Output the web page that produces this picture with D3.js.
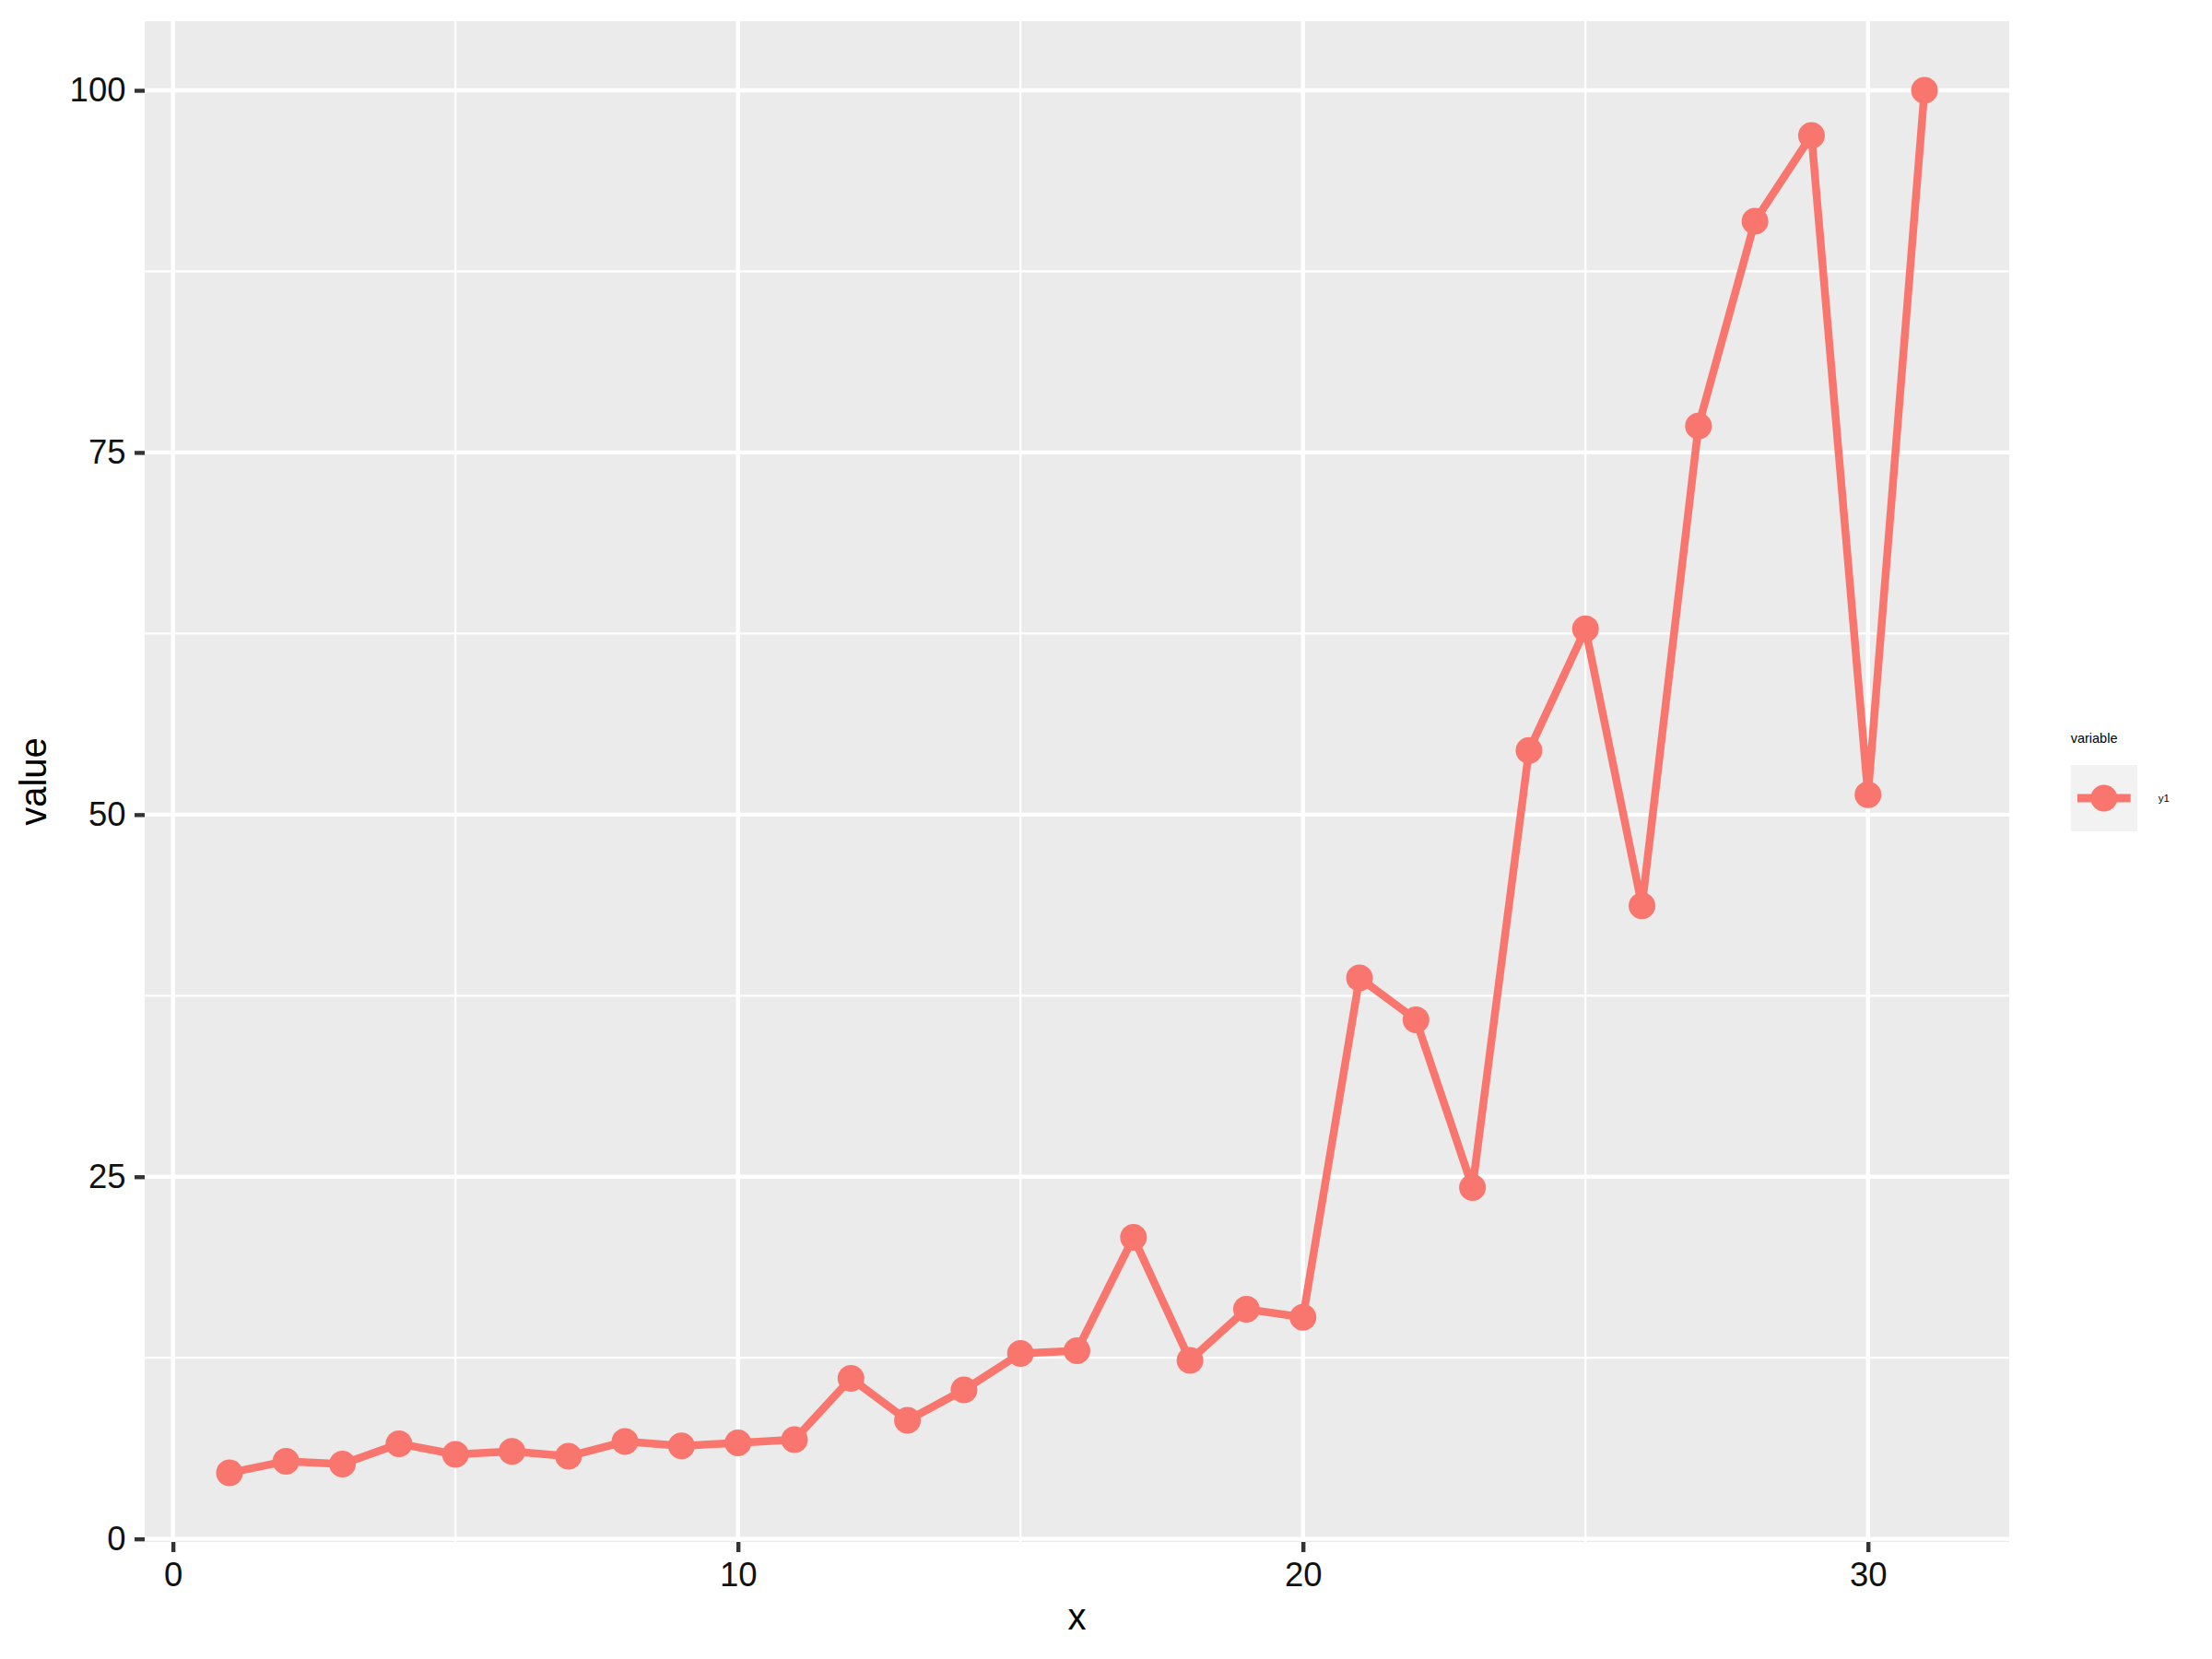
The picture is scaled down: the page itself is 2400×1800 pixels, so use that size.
<!DOCTYPE html>
<html>
<head>
<meta charset="utf-8">
<script src="https://cdn.jsdelivr.net/npm/d3@7"></script>
<style>
  html, body { margin: 0; padding: 0; background: #ffffff; }
  svg { display: block; font-family: "Liberation Sans", Arial, sans-serif; }
</style>
</head>
<body>
<svg id="chart" width="2400" height="1800"></svg>
<script>
// ---- data ----
const xValues = [1, 2, 3, 4, 5, 6, 7, 8, 9, 10, 11, 12, 13, 14, 15, 16, 17, 18, 19, 20, 21, 22, 23, 24, 25, 26, 27, 28, 29, 30, 31];
const y1Values = [4.56, 5.36, 5.17, 6.57, 5.83, 6.04, 5.70, 6.72, 6.42, 6.63, 6.85, 11.08, 8.18, 10.28, 12.80, 12.99, 20.81, 12.33, 15.86, 15.30, 38.73, 35.84, 24.26, 54.43, 62.82, 43.70, 76.83, 90.97, 96.89, 51.37, 100.0];
const seriesName = "y1";
const legendTitle = "variable";
const xTicks = [0, 10, 20, 30];
const xMinorTicks = [5, 15, 25];
const yTicks = [0, 25, 50, 75, 100];
const yMinorTicks = [12.5, 37.5, 62.5, 87.5];
const xTitle = "x";
const yTitle = "value";

// ---- layout ----
const panel = { left: 157, right: 2180, top: 23, bottom: 1673 };
const lineColor = "#F8766D";

function expand(ext, f) {
  const r = ext[1] - ext[0];
  return [ext[0] - r * f, ext[1] + r * f];
}

const x = d3.scaleLinear().domain(expand(d3.extent(xValues), 0.05)).range([panel.left, panel.right]);
const y = d3.scaleLinear().domain(expand(d3.extent(y1Values), 0.05)).range([panel.bottom, panel.top]);

const svg = d3.select("#chart");
svg.append("rect").attr("x", 0).attr("y", 0).attr("width", 2400).attr("height", 1800).attr("fill", "#ffffff");

// panel background
svg.append("rect")
  .attr("x", panel.left).attr("y", panel.top)
  .attr("width", panel.right - panel.left).attr("height", panel.bottom - panel.top)
  .attr("fill", "#EBEBEB");

const grid = svg.append("g");
// minor grid
grid.selectAll(".ymin").data(yMinorTicks).enter().append("line")
  .attr("x1", panel.left).attr("x2", panel.right)
  .attr("y1", d => y(d)).attr("y2", d => y(d))
  .attr("stroke", "#ffffff").attr("stroke-width", 2.2);
grid.selectAll(".xmin").data(xMinorTicks).enter().append("line")
  .attr("y1", panel.top).attr("y2", panel.bottom)
  .attr("x1", d => x(d)).attr("x2", d => x(d))
  .attr("stroke", "#ffffff").attr("stroke-width", 2.2);
// major grid
grid.selectAll(".ymaj").data(yTicks).enter().append("line")
  .attr("x1", panel.left).attr("x2", panel.right)
  .attr("y1", d => y(d)).attr("y2", d => y(d))
  .attr("stroke", "#ffffff").attr("stroke-width", 4.4);
grid.selectAll(".xmaj").data(xTicks).enter().append("line")
  .attr("y1", panel.top).attr("y2", panel.bottom)
  .attr("x1", d => x(d)).attr("x2", d => x(d))
  .attr("stroke", "#ffffff").attr("stroke-width", 4.4);

// data line + points
const data = xValues.map((v, i) => ({ x: v, y: y1Values[i] }));
const line = d3.line().x(d => x(d.x)).y(d => y(d.y));
svg.append("path").datum(data)
  .attr("d", line)
  .attr("fill", "none")
  .attr("stroke", lineColor)
  .attr("stroke-width", 8.5)
  .attr("stroke-linejoin", "round");
svg.selectAll(".pt").data(data).enter().append("circle")
  .attr("cx", d => x(d.x)).attr("cy", d => y(d.y))
  .attr("r", 14.5)
  .attr("fill", lineColor);

// axes
function styleAxis(g) {
  g.select(".domain").remove();
  g.selectAll(".tick line").attr("stroke", "#333333").attr("stroke-width", 4.4);
  g.selectAll(".tick text")
    .attr("fill", "#111111")
    .attr("font-size", 36.5)
    .attr("font-family", "'Liberation Sans', Arial, sans-serif");
}
const yAxis = svg.append("g")
  .attr("transform", `translate(${panel.left},0)`)
  .call(d3.axisLeft(y).tickValues(yTicks).tickSize(11).tickPadding(9.5).tickFormat(d3.format("d")));
styleAxis(yAxis);

const xAxis = svg.append("g")
  .attr("transform", `translate(0,${panel.bottom})`)
  .call(d3.axisBottom(x).tickValues(xTicks).tickSize(11).tickPadding(11).tickFormat(d3.format("d")));
styleAxis(xAxis);

// axis titles
svg.append("text")
  .attr("x", (panel.left + panel.right) / 2).attr("y", 1768)
  .attr("text-anchor", "middle")
  .attr("font-size", 40).attr("fill", "#000000")
  .text(xTitle);
svg.append("text")
  .attr("transform", `translate(50,${(panel.top + panel.bottom) / 2}) rotate(-90)`)
  .attr("text-anchor", "middle")
  .attr("font-size", 40).attr("fill", "#000000")
  .text(yTitle);

// legend
const lg = svg.append("g");
lg.append("text")
  .attr("x", 2246.7).attr("y", 806)
  .attr("font-size", 14.5).attr("fill", "#000000")
  .text(legendTitle);
lg.append("rect")
  .attr("x", 2246.7).attr("y", 830).attr("width", 72.3).attr("height", 72)
  .attr("fill", "#F2F2F2");
lg.append("line")
  .attr("x1", 2254).attr("x2", 2311.7).attr("y1", 866).attr("y2", 866)
  .attr("stroke", lineColor).attr("stroke-width", 9);
lg.append("circle")
  .attr("cx", 2282.8).attr("cy", 866).attr("r", 14.5)
  .attr("fill", lineColor);
lg.append("text")
  .attr("x", 2341.7).attr("y", 870)
  .attr("font-size", 11.5).attr("fill", "#000000")
  .text(seriesName);
</script>
</body>
</html>
